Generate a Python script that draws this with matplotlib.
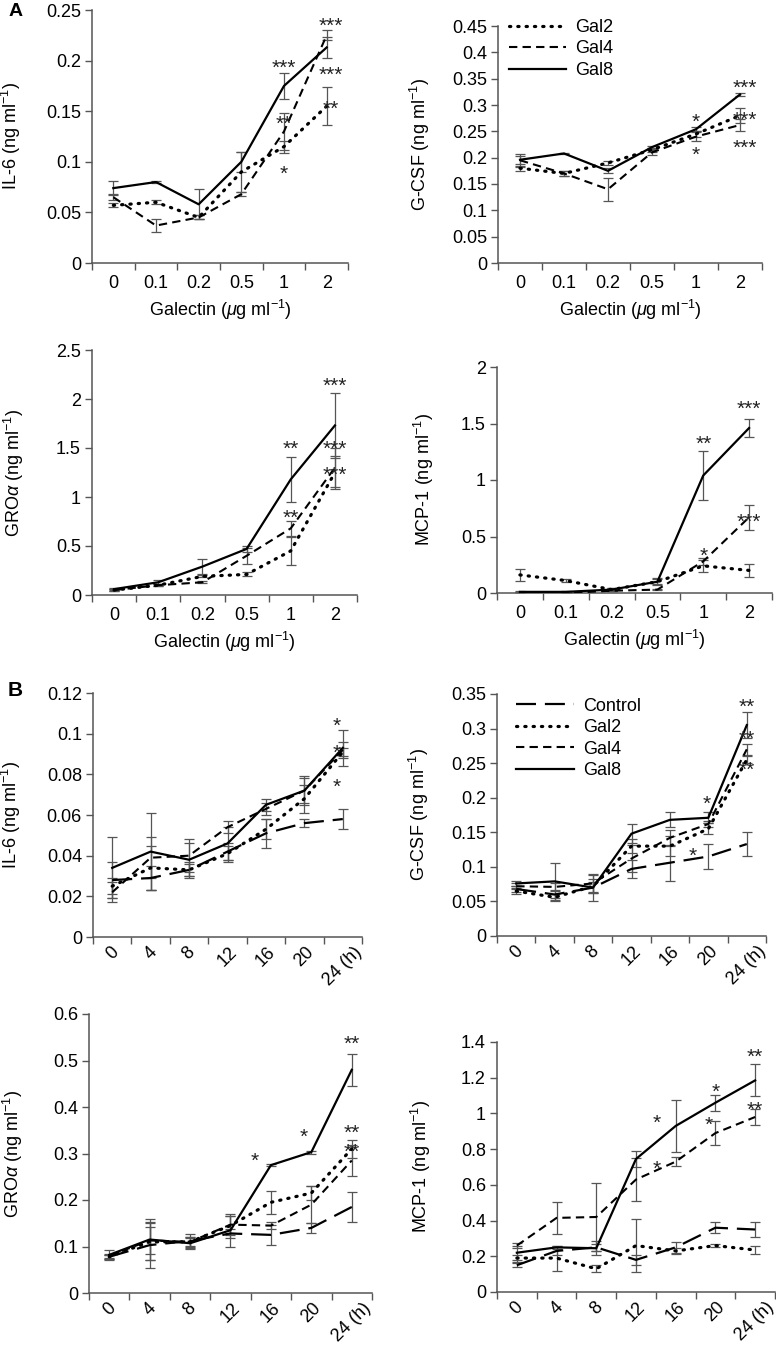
import numpy as np
import matplotlib.pyplot as plt

plt.rcParams['font.family'] = ['Liberation Sans', 'DejaVu Sans']
plt.rcParams['mathtext.fontset'] = 'custom'
plt.rcParams['mathtext.rm'] = 'Liberation Sans'
plt.rcParams['mathtext.it'] = 'Liberation Sans:italic'

# x categories
dose = ['0', '0.1', '0.2', '0.5', '1', '2']
hours = ['0', '4', '8', '12', '16', '20', '24 (h)']

# ---- A: dose response (mean, error) ----
a_il6_gal2 = [0.057, 0.060, 0.045, 0.090, 0.115, 0.155]
a_il6_gal2_err = [0.002, 0.002, 0.002, 0.020, 0.006, 0.019]
a_il6_gal4 = [0.065, 0.037, 0.045, 0.068, 0.130, 0.225]
a_il6_gal4_err = [0.003, 0.006, 0.002, 0.002, 0.018, 0.005]
a_il6_gal8 = [0.074, 0.080, 0.058, 0.100, 0.175, 0.213]
a_il6_gal8_err = [0.007, 0.001, 0.015, 0.010, 0.013, 0.010]

a_gcsf_gal2 = [0.180, 0.170, 0.190, 0.215, 0.245, 0.280]
a_gcsf_gal2_err = [0.005, 0.004, 0.003, 0.004, 0.005, 0.015]
a_gcsf_gal4 = [0.195, 0.170, 0.140, 0.210, 0.240, 0.262]
a_gcsf_gal4_err = [0.012, 0.005, 0.022, 0.005, 0.008, 0.012]
a_gcsf_gal8 = [0.196, 0.208, 0.175, 0.220, 0.254, 0.320]
a_gcsf_gal8_err = [0.008, 0.001, 0.005, 0.003, 0.004, 0.002]

a_gro_gal2 = [0.05, 0.10, 0.19, 0.21, 0.45, 1.25]
a_gro_gal2_err = [0.01, 0.01, 0.01, 0.02, 0.14, 0.17]
a_gro_gal4 = [0.05, 0.10, 0.13, 0.40, 0.68, 1.30]
a_gro_gal4_err = [0.01, 0.01, 0.01, 0.08, 0.08, 0.20]
a_gro_gal8 = [0.06, 0.13, 0.29, 0.47, 1.18, 1.73]
a_gro_gal8_err = [0.01, 0.02, 0.08, 0.03, 0.23, 0.33]

a_mcp_gal2 = [0.16, 0.11, 0.03, 0.10, 0.24, 0.20]
a_mcp_gal2_err = [0.05, 0.01, 0.01, 0.02, 0.05, 0.055]
a_mcp_gal4 = [0.00, 0.00, 0.02, 0.03, 0.28, 0.67]
a_mcp_gal4_err = [0.005, 0.005, 0.005, 0.005, 0.03, 0.11]
a_mcp_gal8 = [0.01, 0.01, 0.03, 0.10, 1.04, 1.46]
a_mcp_gal8_err = [0.005, 0.005, 0.01, 0.03, 0.22, 0.08]

# ---- B: time course ----
b_il6_ctrl = [0.028, 0.029, 0.033, 0.042, 0.051, 0.056, 0.058]
b_il6_ctrl_err = [0.009, 0.006, 0.004, 0.004, 0.007, 0.002, 0.005]
b_il6_gal2 = [0.025, 0.034, 0.033, 0.041, 0.053, 0.068, 0.091]
b_il6_gal2_err = [0.004, 0.011, 0.003, 0.004, 0.005, 0.007, 0.002]
b_il6_gal4 = [0.022, 0.039, 0.040, 0.054, 0.063, 0.072, 0.092]
b_il6_gal4_err = [0.005, 0.010, 0.008, 0.003, 0.003, 0.006, 0.004]
b_il6_gal8 = [0.034, 0.042, 0.038, 0.046, 0.065, 0.072, 0.093]
b_il6_gal8_err = [0.015, 0.019, 0.008, 0.008, 0.003, 0.007, 0.009]

b_gcsf_ctrl = [0.068, 0.060, 0.070, 0.097, 0.106, 0.115, 0.133]
b_gcsf_ctrl_err = [0.005, 0.005, 0.008, 0.013, 0.026, 0.018, 0.017]
b_gcsf_gal2 = [0.065, 0.056, 0.072, 0.130, 0.130, 0.155, 0.255]
b_gcsf_gal2_err = [0.004, 0.005, 0.010, 0.010, 0.015, 0.008, 0.005]
b_gcsf_gal4 = [0.072, 0.071, 0.076, 0.112, 0.142, 0.162, 0.270]
b_gcsf_gal4_err = [0.004, 0.005, 0.012, 0.020, 0.012, 0.005, 0.008]
b_gcsf_gal8 = [0.076, 0.079, 0.070, 0.148, 0.168, 0.171, 0.305]
b_gcsf_gal8_err = [0.003, 0.027, 0.020, 0.014, 0.011, 0.008, 0.019]

b_gro_ctrl = [0.078, 0.103, 0.112, 0.128, 0.125, 0.140, 0.185]
b_gro_ctrl_err = [0.004, 0.050, 0.015, 0.010, 0.021, 0.010, 0.032]
b_gro_gal2 = [0.078, 0.110, 0.110, 0.145, 0.195, 0.215, 0.310]
b_gro_gal2_err = [0.004, 0.040, 0.008, 0.020, 0.025, 0.015, 0.020]
b_gro_gal4 = [0.080, 0.113, 0.110, 0.147, 0.145, 0.190, 0.285]
b_gro_gal4_err = [0.004, 0.030, 0.010, 0.018, 0.008, 0.040, 0.033]
b_gro_gal8 = [0.082, 0.115, 0.107, 0.135, 0.275, 0.303, 0.480]
b_gro_gal8_err = [0.011, 0.045, 0.013, 0.035, 0.002, 0.003, 0.035]

b_mcp_ctrl = [0.15, 0.23, 0.25, 0.18, 0.25, 0.36, 0.35]
b_mcp_ctrl_err = [0.01, 0.02, 0.02, 0.03, 0.03, 0.03, 0.04]
b_mcp_gal2 = [0.19, 0.19, 0.13, 0.26, 0.23, 0.26, 0.235]
b_mcp_gal2_err = [0.02, 0.07, 0.02, 0.15, 0.015, 0.01, 0.02]
b_mcp_gal4 = [0.26, 0.415, 0.42, 0.63, 0.73, 0.89, 0.98]
b_mcp_gal4_err = [0.015, 0.09, 0.19, 0.12, 0.025, 0.065, 0.045]
b_mcp_gal8 = [0.22, 0.25, 0.245, 0.745, 0.93, 1.06, 1.185]
b_mcp_gal8_err = [0.04, 0.01, 0.04, 0.045, 0.145, 0.045, 0.09]

# significance marks: (x position, y, text)
a_il6_stars = [(4, 0.199, '***'), (4, 0.143, '**'), (4, 0.094, '*'),
               (5.1, 0.240, '***'), (5.1, 0.192, '***'), (5.1, 0.158, '**')]
a_gcsf_stars = [(4, 0.279, '*'), (4, 0.216, '*'),
                (5.1, 0.344, '***'), (5.1, 0.283, '***'), (5.1, 0.230, '***')]
a_gro_stars = [(4, 1.55, '**'), (4, 0.85, '**'),
               (5, 2.19, '***'), (5, 1.55, '***'), (5, 1.29, '***')]
a_mcp_stars = [(4, 1.37, '**'), (4, 0.38, '*'), (5, 1.68, '***'), (5, 0.68, '***')]
b_il6_stars = [(5.85, 0.1066, '*'), (5.85, 0.0934, '*'), (5.85, 0.0767, '*')]
b_gcsf_stars = [(4.95, 0.200, '*'), (4.6, 0.124, '*'),
                (6, 0.340, '**'), (6, 0.294, '**'), (6, 0.249, '**')]
b_gro_stars = [(3.6, 0.296, '*'), (4.8, 0.349, '*'),
               (6, 0.548, '**'), (6, 0.357, '**'), (6, 0.316, '**')]
b_mcp_stars = [(3.52, 0.98, '*'), (3.52, 0.72, '*'), (5.0, 1.155, '*'), (4.82, 0.97, '*'),
               (6, 1.35, '**'), (6, 1.05, '**')]

styles = {
    'Control': dict(linestyle=(0, (9, 4)), linewidth=1.6),
    'Gal2': dict(linestyle=(0, (0.4, 2.2)), linewidth=2.3, dash_capstyle='round'),
    'Gal4': dict(linestyle=(0, (4, 2.5)), linewidth=1.5),
    'Gal8': dict(linestyle='-', linewidth=1.6),
}

W, H = 776, 1357
fig = plt.figure(figsize=(W / 100, H / 100), dpi=100)


def panel(px, cats, series, ymax, ystep, ylabel, stars, ylab_x,
          galectin=False, legend=None):
    left, right, top, bottom = px
    ax = fig.add_axes([left / W, 1 - bottom / H, (right - left) / W, (bottom - top) / H])
    x = np.arange(len(cats))
    for name, y, e in series:
        ax.errorbar(x, y, yerr=e, fmt='none', ecolor='#555555', elinewidth=0.9,
                    capsize=3.5, capthick=0.9, zorder=2)
        ax.plot(x, y, color='black', label=name, zorder=3, **styles[name])
    for sx, sy, s in stars:
        ax.annotate(s, (sx, sy), xytext=(0, -8.5), textcoords='offset points',
                    ha='center', va='baseline', fontsize=15, color='#222222')

    ax.set_xlim(-0.5, len(cats) - 0.5)
    ax.set_xticks(np.arange(len(cats) + 1) - 0.5)
    ax.set_xticklabels([])
    ax.set_xticks(x, minor=True)
    if galectin:
        ax.set_xticklabels(cats, minor=True)
        ax.set_xlabel(r'Galectin ($\mu$g ml$^{-1}$)', fontsize=13, labelpad=4)
        ax.tick_params(axis='x', which='minor', length=0, pad=9, labelsize=13)
    else:
        ax.set_xticklabels(cats, minor=True, rotation=45)
        ax.tick_params(axis='x', which='minor', length=0, pad=5, labelsize=13)

    ticks = np.arange(0, ymax + ystep / 2, ystep)
    ax.set_ylim(0, ymax)
    ax.set_yticks(ticks)
    ax.set_yticklabels([f'{round(t, 4):g}' for t in ticks])
    ax.tick_params(axis='y', labelsize=13, length=5, width=1, color='#555555', pad=3)
    ax.tick_params(axis='x', which='major', length=5, width=1, color='#555555')
    ax.set_ylabel(ylabel, fontsize=13)
    ax.yaxis.set_label_coords(ylab_x, 0.5)

    for s in ['top', 'right']:
        ax.spines[s].set_visible(False)
    for s in ['left', 'bottom']:
        ax.spines[s].set_color('#555555')
        ax.spines[s].set_linewidth(1.1)
    ax.spines['bottom'].set_zorder(1)

    if legend is not None:
        ax.legend(loc='upper left', bbox_to_anchor=legend, frameon=False,
                  fontsize=13, handlelength=3.2, handletextpad=0.5,
                  labelspacing=0.25, borderpad=0, borderaxespad=0)
    return ax


ng = r' (ng ml$^{-1}$)'

panel((92, 348, 10, 263), dose,
      [('Gal2', a_il6_gal2, a_il6_gal2_err), ('Gal4', a_il6_gal4, a_il6_gal4_err),
       ('Gal8', a_il6_gal8, a_il6_gal8_err)],
      0.25, 0.05, 'IL-6' + ng, a_il6_stars, -0.27, galectin=True)

panel((498, 762, 26, 263), dose,
      [('Gal2', a_gcsf_gal2, a_gcsf_gal2_err), ('Gal4', a_gcsf_gal4, a_gcsf_gal4_err),
       ('Gal8', a_gcsf_gal8, a_gcsf_gal8_err)],
      0.45, 0.05, 'G-CSF' + ng, a_gcsf_stars, -0.25, galectin=True,
      legend=(0.04, 1.03))

panel((92, 357, 350, 595), dose,
      [('Gal2', a_gro_gal2, a_gro_gal2_err), ('Gal4', a_gro_gal4, a_gro_gal4_err),
       ('Gal8', a_gro_gal8, a_gro_gal8_err)],
      2.5, 0.5, r'GRO$\alpha$' + ng, a_gro_stars, -0.25, galectin=True)

panel((497, 772, 367, 593), dose,
      [('Gal2', a_mcp_gal2, a_mcp_gal2_err), ('Gal4', a_mcp_gal4, a_mcp_gal4_err),
       ('Gal8', a_mcp_gal8, a_mcp_gal8_err)],
      2.0, 0.5, 'MCP-1' + ng, a_mcp_stars, -0.22, galectin=True)

panel((93, 362, 693, 937), hours,
      [('Control', b_il6_ctrl, b_il6_ctrl_err), ('Gal2', b_il6_gal2, b_il6_gal2_err),
       ('Gal4', b_il6_gal4, b_il6_gal4_err), ('Gal8', b_il6_gal8, b_il6_gal8_err)],
      0.12, 0.02, 'IL-6' + ng, b_il6_stars, -0.26)

panel((497, 766, 694, 936), hours,
      [('Control', b_gcsf_ctrl, b_gcsf_ctrl_err), ('Gal2', b_gcsf_gal2, b_gcsf_gal2_err),
       ('Gal4', b_gcsf_gal4, b_gcsf_gal4_err), ('Gal8', b_gcsf_gal8, b_gcsf_gal8_err)],
      0.35, 0.05, 'G-CSF' + ng, b_gcsf_stars, -0.245, legend=(0.07, 0.985))

panel((89, 372, 1014, 1293), hours,
      [('Control', b_gro_ctrl, b_gro_ctrl_err), ('Gal2', b_gro_gal2, b_gro_gal2_err),
       ('Gal4', b_gro_gal4, b_gro_gal4_err), ('Gal8', b_gro_gal8, b_gro_gal8_err)],
      0.6, 0.1, r'GRO$\alpha$' + ng, b_gro_stars, -0.226)

panel((497, 775, 1042, 1292), hours,
      [('Control', b_mcp_ctrl, b_mcp_ctrl_err), ('Gal2', b_mcp_gal2, b_mcp_gal2_err),
       ('Gal4', b_mcp_gal4, b_mcp_gal4_err), ('Gal8', b_mcp_gal8, b_mcp_gal8_err)],
      1.4, 0.2, 'MCP-1' + ng, b_mcp_stars, -0.23)

fig.text(16 / W, 1 - 12 / H, 'A', fontsize=14, fontweight='bold', ha='center', va='center')
fig.text(15 / W, 1 - 691 / H, 'B', fontsize=15, fontweight='bold', ha='center', va='center')

fig.savefig('out.png', dpi=100)
